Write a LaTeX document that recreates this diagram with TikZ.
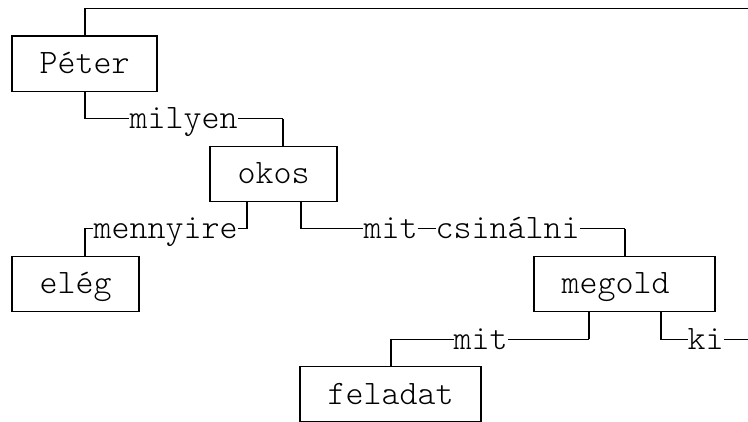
\documentclass[tikz,border=0pt]{standalone}
\usepackage{fontspec}
\setmonofont{lmmonolt10-regular.otf}
\usetikzlibrary{calc}

\begin{document}
\begin{tikzpicture}[
  x=18pt, y=-27.55pt,
  wbox/.style={draw, line width=1.1pt, inner sep=0pt, minimum height=55.1pt,
    font=\fontsize{34.29pt}{40pt}\selectfont\ttfamily,
    text height=21.6pt, text depth=1.6pt},
  wlabel/.style={inner sep=0pt, font=\fontsize{34.29pt}{40pt}\selectfont\ttfamily,
    text height=21.6pt, text depth=1.6pt},
  hline/.style={line width=1.1pt},
  vline/.style={line width=2pt}
]
\useasboundingbox (-12.7pt,8.5pt) rectangle (735.3pt,-413.5pt);

% word boxes on the character grid
\node[wbox, minimum width=144pt] (peter) at (4,2) {Péter};
\node[wbox, minimum width=126pt] (okos) at (14.5,6) {okos};
\node[wbox, minimum width=126pt] (eleg) at (3.5,10) {elég};
\node[wbox, minimum width=180pt] (megold) at (34,10) {megold\hphantom{x}};
\node[wbox, minimum width=180pt] (feladat) at (21,14) {feladat};

% relation labels
\node[wlabel] (milyen) at (9.5,4) {milyen};
\node[wlabel] (mennyire) at (8.5,8) {mennyire};
\node[wlabel] (mitcsin) at (25.5,8) {mit\rule[9.45pt]{18pt}{1.1pt}csinálni};
\node[wlabel] (mit) at (26,12) {mit};
\node[wlabel] (ki) at (38.5,12) {ki};

% ports and free ends
\coordinate (root) at (42,0);
\coordinate (kiend) at (42,12);
\coordinate (okos-in) at (15,5);
\coordinate (okos-l) at (13,7);
\coordinate (okos-r) at (16,7);
\coordinate (eleg-in) at (4,9);
\coordinate (megold-l) at (32,11);
\coordinate (megold-r) at (36,11);

% connectors
\draw[hline] (root) -| (peter.north);
\draw[hline] (peter.south) |- (milyen.west);
\draw[hline] (milyen.east) -| (okos-in);
\draw[hline] (okos-l) |- (mennyire.east);
\draw[hline] (mennyire.west) -| (eleg-in);
\draw[hline] (okos-r) |- (mitcsin.west);
\draw[hline] (mitcsin.east) -| (megold.north);
\draw[hline] (megold-l) |- (mit.east);
\draw[hline] (mit.west) -| (feladat.north);
\draw[hline] (megold-r) |- (ki.west);
\draw[hline] (ki.east) -- (kiend);

% heavier vertical strokes
\foreach \a/\b in {peter.north/root, peter.south/milyen.west, okos-in/milyen.east,
    okos-l/mennyire.east, eleg-in/mennyire.west, okos-r/mitcsin.west,
    megold.north/mitcsin.east, megold-l/mit.east, feladat.north/mit.west,
    megold-r/ki.west}
  \draw[vline] (\a) -- (\a |- \b);
\foreach \b in {peter,okos,eleg,megold,feladat}
  \draw[vline] (\b.north west) -- (\b.south west) (\b.north east) -- (\b.south east);

\end{tikzpicture}
\end{document}
